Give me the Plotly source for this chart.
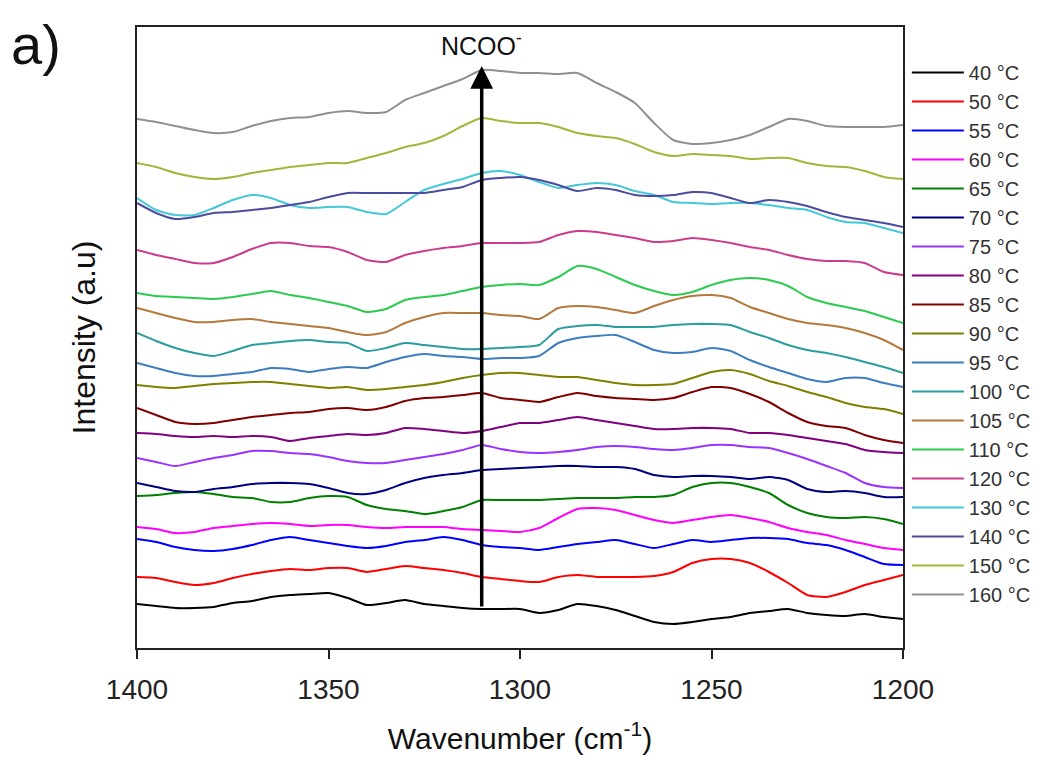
import plotly.graph_objects as go

# Wavenumber grid (cm-1), 1400 -> 1200 in steps of 5
wavenumber = [1400 - 5 * k for k in range(41)]

labels = ["40 °C", "50 °C", "55 °C", "60 °C", "65 °C", "70 °C", "75 °C", "80 °C", "85 °C",
          "90 °C", "95 °C", "100 °C", "105 °C", "110 °C", "120 °C", "130 °C", "140 °C",
          "150 °C", "160 °C"]

colors = ["#000000", "#FF0000", "#0000FF", "#FF00FF", "#008000", "#000080", "#9933FF",
          "#800080", "#800000", "#808000", "#3D7DC0", "#2A9D9D", "#B5793B", "#2BCB4F",
          "#CC3C8C", "#44C8D8", "#4B4B9F", "#A5B53B", "#909090"]

# Offset intensities (a.u.)
i40 = [44, 42, 40, 40, 41, 45, 47, 51, 53, 54, 55, 50, 43, 45, 48, 44, 42, 40, 39, 39, 39,
       35, 38, 44, 42, 38, 32, 26, 24, 26, 29, 31, 35, 37, 39, 35, 33, 32, 34, 31, 29]
i50 = [71, 70, 66, 63, 65, 70, 74, 77, 79, 78, 80, 80, 76, 79, 82, 80, 78, 75, 71, 69, 67,
       66, 71, 73, 71, 71, 71, 72, 76, 85, 89, 89, 85, 76, 65, 53, 51, 56, 63, 68, 73]
i55 = [109, 106, 101, 98, 97, 99, 103, 108, 111, 108, 105, 102, 100, 102, 106, 108, 111, 108, 103, 101, 100,
       98, 101, 104, 106, 108, 104, 100, 104, 108, 106, 108, 110, 110, 109, 105, 103, 98, 91, 84, 83]
i60 = [121, 119, 115, 116, 120, 122, 124, 125, 124, 122, 123, 123, 121, 120, 121, 121, 121, 119, 118, 117, 116,
       120, 130, 139, 140, 138, 133, 128, 125, 128, 131, 133, 130, 126, 120, 116, 113, 108, 104, 100, 98]
i65 = [152, 153, 155, 156, 154, 151, 150, 146, 146, 150, 152, 151, 143, 139, 137, 134, 137, 141, 148, 148, 148,
       148, 149, 150, 150, 150, 151, 151, 153, 161, 165, 165, 161, 155, 143, 135, 131, 130, 131, 129, 124]
i70 = [165, 161, 157, 156, 159, 161, 164, 165, 165, 164, 160, 155, 154, 158, 165, 170, 173, 175, 178, 179, 180,
       181, 182, 182, 181, 181, 179, 173, 171, 172, 172, 171, 169, 171, 168, 159, 156, 157, 155, 151, 151]
i75 = [190, 186, 182, 186, 190, 193, 197, 197, 195, 194, 191, 187, 185, 185, 188, 191, 194, 198, 203, 199, 196,
       195, 196, 198, 201, 202, 201, 199, 198, 200, 203, 203, 201, 200, 195, 189, 182, 175, 165, 161, 160]
i80 = [215, 214, 212, 211, 212, 211, 212, 211, 207, 210, 212, 214, 213, 215, 220, 219, 217, 215, 217, 221, 225,
       225, 228, 231, 228, 225, 222, 219, 219, 220, 220, 219, 215, 215, 213, 210, 207, 204, 198, 196, 195]
i85 = [240, 233, 226, 224, 225, 228, 231, 233, 235, 236, 239, 240, 238, 241, 247, 250, 251, 253, 255, 250, 248,
       246, 251, 255, 252, 250, 249, 248, 250, 256, 261, 260, 254, 246, 235, 226, 222, 220, 213, 208, 205]
i90 = [263, 261, 260, 262, 264, 265, 266, 266, 264, 262, 260, 261, 258, 259, 261, 263, 266, 270, 273, 275, 275,
       273, 271, 271, 268, 265, 263, 263, 264, 270, 276, 278, 274, 267, 262, 256, 251, 245, 241, 239, 234]
i95 = [285, 280, 275, 272, 272, 274, 276, 280, 279, 276, 279, 281, 280, 286, 291, 294, 292, 291, 289, 290, 290,
       292, 305, 310, 312, 313, 306, 298, 295, 296, 300, 297, 288, 281, 275, 269, 266, 270, 270, 265, 261]
i100 = [315, 307, 300, 295, 292, 297, 303, 305, 307, 308, 306, 305, 297, 300, 305, 303, 301, 299, 299, 300, 301,
        303, 319, 322, 323, 321, 321, 321, 323, 324, 324, 323, 316, 310, 303, 298, 295, 291, 286, 281, 275]
i105 = [340, 335, 330, 326, 326, 328, 329, 326, 324, 322, 320, 316, 313, 316, 325, 331, 335, 335, 335, 333, 332,
        329, 340, 342, 341, 338, 335, 342, 348, 352, 353, 350, 341, 335, 329, 325, 323, 320, 315, 308, 298]
i110 = [355, 352, 351, 350, 349, 351, 354, 357, 353, 350, 346, 342, 336, 339, 348, 351, 353, 357, 361, 363, 364,
        363, 371, 382, 379, 371, 363, 357, 353, 356, 363, 368, 370, 368, 362, 351, 345, 341, 337, 331, 325]
i120 = [398, 393, 389, 385, 385, 391, 399, 405, 405, 402, 401, 396, 388, 386, 393, 397, 400, 402, 405, 405, 405,
        406, 413, 417, 416, 413, 410, 406, 407, 410, 408, 405, 401, 398, 393, 389, 387, 387, 385, 376, 373]
i130 = [450, 438, 433, 433, 440, 448, 453, 450, 443, 440, 441, 441, 436, 434, 446, 458, 464, 469, 475, 477, 473,
        466, 460, 463, 465, 463, 457, 453, 446, 445, 444, 445, 445, 443, 440, 438, 431, 426, 425, 420, 415]
i140 = [445, 435, 429, 431, 435, 436, 438, 440, 443, 446, 451, 455, 455, 455, 455, 455, 458, 461, 468, 470, 471,
        468, 463, 457, 460, 458, 453, 452, 453, 456, 455, 450, 445, 448, 446, 442, 436, 431, 428, 425, 421]
i150 = [485, 481, 475, 471, 469, 471, 475, 478, 481, 483, 485, 485, 490, 495, 501, 505, 512, 522, 530, 527, 525,
        525, 521, 515, 512, 510, 504, 496, 492, 494, 493, 492, 489, 490, 490, 485, 482, 481, 477, 471, 469]
i160 = [529, 526, 522, 518, 515, 516, 522, 527, 530, 531, 535, 537, 535, 536, 548, 555, 562, 569, 578, 577, 575,
        575, 574, 575, 565, 556, 545, 525, 508, 504, 505, 508, 513, 521, 529, 527, 522, 521, 521, 521, 523]

series = [i40, i50, i55, i60, i65, i70, i75, i80, i85, i90, i95, i100, i105, i110, i120,
          i130, i140, i150, i160]

# NCOO- arrow (wavenumber, start and tip intensity)
arrow_x = 1310
arrow_y0 = 40
arrow_y1 = 582

FONT = "Liberation Sans, Arial, sans-serif"

fig = go.Figure()
for lab, col, ys in zip(labels, colors, series):
    fig.add_trace(go.Scatter(
        x=wavenumber, y=ys, mode="lines", name=lab,
        line=dict(color=col, width=2, shape="spline", smoothing=0.6),
    ))

fig.add_annotation(
    x=arrow_x, y=arrow_y1, ax=arrow_x, ay=arrow_y0, xref="x", yref="y",
    axref="x", ayref="y", showarrow=True, arrowhead=2, arrowsize=1.3,
    arrowwidth=3.5, arrowcolor="#000000", text="",
)
fig.add_annotation(
    x=arrow_x, y=arrow_y1, xref="x", yref="y", yanchor="bottom", yshift=4,
    text="NCOO<sup>-</sup>", showarrow=False,
    font=dict(family=FONT, size=25, color="#111111"),
)
fig.add_annotation(
    x=-0.167, y=0.972, xref="paper", yref="paper", xanchor="left", yanchor="middle",
    text="a)", showarrow=False, font=dict(family=FONT, size=56, color="#111111"),
)

fig.update_layout(
    width=1045, height=758,
    margin=dict(l=129, r=150, t=19, b=118),
    paper_bgcolor="white", plot_bgcolor="white",
    font=dict(family=FONT, color="#222222"),
    showlegend=True,
    legend=dict(
        x=1.005, y=0.958, xanchor="left", yanchor="top",
        font=dict(family=FONT, size=20, color="#333333"),
        bgcolor="rgba(0,0,0,0)", borderwidth=0, tracegroupgap=0,
        itemwidth=52,
    ),
    xaxis=dict(
        range=[1400, 1200], autorange=False,
        tickmode="array", tickvals=[1400, 1350, 1300, 1250, 1200],
        ticktext=["1400", "1350", "1300", "1250", "1200"],
        ticks="outside", ticklen=9, tickwidth=2, tickcolor="#222222",
        ticklabelstandoff=6,
        showline=True, linecolor="#222222", linewidth=2, mirror=True,
        showgrid=False, zeroline=False,
        tickfont=dict(family=FONT, size=28, color="#222222"),
        title=dict(text="Wavenumber (cm<sup>-1</sup>)", standoff=24,
                   font=dict(family=FONT, size=30, color="#111111")),
    ),
    yaxis=dict(
        range=[0, 621], autorange=False,
        showticklabels=False, ticks="",
        showline=True, linecolor="#222222", linewidth=2, mirror=True,
        showgrid=False, zeroline=False,
        title=dict(text="Intensity (a.u)", standoff=30,
                   font=dict(family=FONT, size=32, color="#111111")),
    ),
)

fig.write_html("out.html")
